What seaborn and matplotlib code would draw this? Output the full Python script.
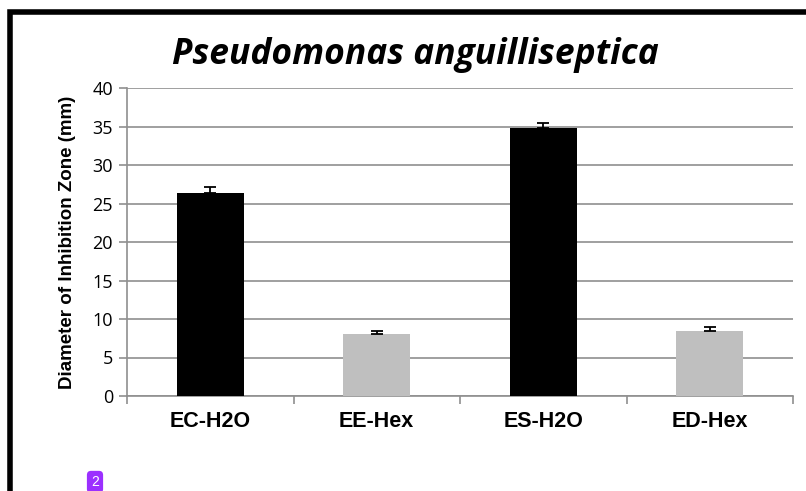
import matplotlib
matplotlib.use("Agg")
import matplotlib.pyplot as plt
import seaborn as sns
import pandas as pd
from matplotlib.patches import Rectangle

categories = ["EC-H2O", "EE-Hex", "ES-H2O", "ED-Hex"]
values = [26.3, 8.0, 34.8, 8.5]
errors = [0.9, 0.5, 0.6, 0.5]
colors = ["#000000", "#BFBFBF", "#000000", "#BFBFBF"]
yticks = [0, 5, 10, 15, 20, 25, 30, 35, 40]
title = "Pseudomonas anguilliseptica"
ylabel = "Diameter of Inhibition Zone (mm)"

sns.set_style("white")
plt.rcParams["font.family"] = ["Liberation Sans", "DejaVu Sans"]
plt.rcParams["text.color"] = "black"
plt.rcParams["xtick.color"] = "black"
plt.rcParams["ytick.color"] = "black"
plt.rcParams["axes.labelcolor"] = "black"

fig = plt.figure(figsize=(8.06, 4.91), dpi=100)
ax = fig.add_axes([127/806, 1-396/491, (793-127)/806, (396-88)/491])

df = pd.DataFrame({"cat": categories, "val": values})
sns.barplot(data=df, x="cat", y="val", hue="cat", palette=colors, order=categories,
            hue_order=categories, width=0.4, legend=False, ax=ax, saturation=1,
            edgecolor="none", zorder=3)
ax.errorbar(range(len(categories)), values, yerr=[[0]*4, errors], fmt="none",
            ecolor="black", elinewidth=1.3, capsize=4, capthick=1.3, zorder=4)

ax.set_ylim(0, 40)
ax.set_xlim(-0.5, 3.5)
ax.set_yticks(yticks)
ax.set_yticklabels([str(v) for v in yticks], fontsize=13, family="Open Sans")
ax.yaxis.grid(True, color="#8f8f8f", linewidth=1.2, zorder=0)
ax.set_axisbelow(True)
for s in ["top", "right"]:
    ax.spines[s].set_visible(False)
for s in ["left", "bottom"]:
    ax.spines[s].set_color("#8f8f8f")
    ax.spines[s].set_linewidth(1.2)
ax.tick_params(axis="y", length=6, color="#8f8f8f", labelcolor="black", width=1.2, pad=4, left=True)
ax.set_xticks(range(len(categories)))
ax.set_xticklabels(categories, fontsize=15.5, fontweight="bold")
ax.tick_params(axis="x", length=0, pad=11, labelcolor="black")
ax.set_xticks([-0.5, 0.5, 1.5, 2.5, 3.5], minor=True)
ax.tick_params(axis="x", which="minor", length=6, color="#8f8f8f", width=1.2, bottom=True)
ax.set_xlabel("")
ax.set_ylabel(ylabel, fontsize=13.5, fontweight="bold", labelpad=12, color="black")

fig.text(415/806, 1-55/491, title, ha="center", va="center", fontsize=25.5,
         fontstyle="italic", fontweight="bold", family="Open Sans", color="black")

# frame border (left and top visible)
fig.patches.append(Rectangle((10/806, -0.1), 1.2, 1 - 12/491 + 0.1,
                             transform=fig.transFigure, fill=False,
                             edgecolor="black", linewidth=4, zorder=10))
# badge
fig.text(95/806, 1-482/491, "2", ha="center", va="center", fontsize=10,
         color="white", bbox=dict(boxstyle="round,pad=0.3", fc="#9b30ff", ec="none"))

fig.savefig("out.png", dpi=100)
